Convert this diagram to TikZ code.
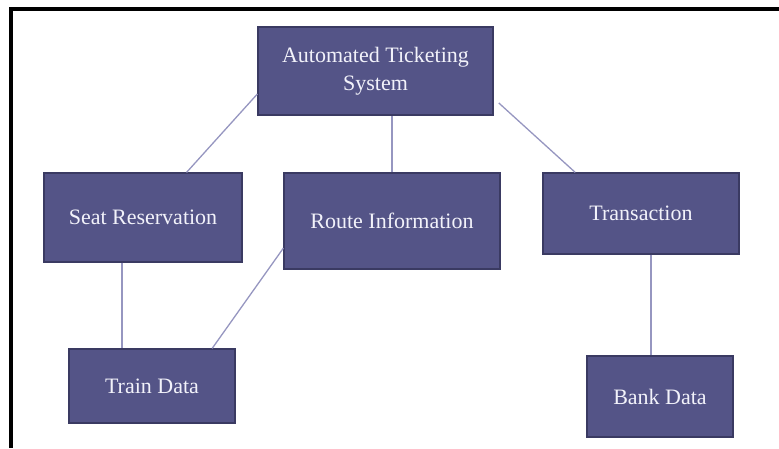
\documentclass[tikz,border=0pt]{standalone}
\usepackage{fontspec}
\setmainfont{Liberation Serif}
\usepackage{tikz}
\usetikzlibrary{calc}

\definecolor{boite}{RGB}{84,84,135}
\definecolor{bord}{RGB}{58,58,98}
\definecolor{lien}{RGB}{150,150,192}
\definecolor{texte}{RGB}{242,242,250}

\begin{document}
\begin{tikzpicture}[x=1pt,y=1pt,
    boite/.style={draw=bord, line width=1.2pt, fill=boite, text=texte,
      align=center, inner sep=0pt, font=\fontsize{22}{28}\selectfont},
    lien/.style={draw=lien, line width=1.3pt}]
                % cadre
                \useasboundingbox (0,0) rectangle (779,448);
                \draw[line width=4pt] (11,0) -- (11,439) -- (779,439);

                % niveau 1
                \node[boite, minimum width=235, minimum height=88] (ats) at (375.5,377) {Automated Ticketing\\System};

                % niveau 2
                \node[boite, minimum width=198, minimum height=89] (seat) at (143,230.5) {Seat Reservation};
                \node[boite, minimum width=216, minimum height=96] (route) at (392,227) {Route Information};
                \node[boite, minimum width=196, minimum height=81] (trans) at (641,234.5) {Transaction};

                % niveau 3
                \node[boite, minimum width=166, minimum height=74] (train) at (152,62) {Train Data};
                \node[boite, minimum width=146, minimum height=81] (bank) at (660,51.5) {Bank Data};

                % liens
                \draw[lien] (ats.191) -- (seat.46);
                \draw[lien] (route.north) -- (route.north |- ats.south);
                \draw[lien, shorten <=7pt] (ats.-13) -- (trans.148);
                \draw[lien] ([xshift=-21pt]seat.south) -- ([xshift=-21pt]seat.south |- train.north);
                \draw[lien] (route.194) -- (train.32);
                \draw[lien] ([xshift=10pt]trans.south) -- ([xshift=10pt]trans.south |- bank.north);
\end{tikzpicture}
\end{document}
